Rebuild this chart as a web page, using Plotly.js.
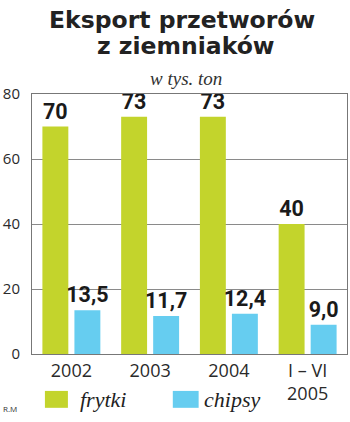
<!DOCTYPE html>
<html>
<head>
<meta charset="utf-8">
<script src="https://cdn.plot.ly/plotly-3.0.1.min.js"></script>
<style>html,body{margin:0;padding:0;background:#fff;}#chart{width:350px;height:422px;}</style>
</head>
<body>
<div id="chart"></div>
<script>
var categories = ["2002", "2003", "2004", "I – VI<br>2005"];
var frytki = [70, 73, 73, 40];
var chipsy = [13.5, 11.7, 12.4, 9.0];
var yTicks = [0, 20, 40, 60, 80];
var seriesNames = ["frytki", "chipsy"];
var titleLines = ["Eksport przetworów", "z ziemniaków"];
var subtitle = "w tys. ton";

var green = "#c3d42c";
var blue = "#66cdf0";

function fmt(v, d) { return v.toFixed(d).replace('.', ','); }

var labelFont = {family: "Roboto, 'Liberation Sans', sans-serif", size: 21.5, color: "#1a1a1a", weight: 700};

var traces = [
  {type: "bar", name: seriesNames[0], x: categories, y: frytki,
   text: frytki.map(function(v){return fmt(v,0);}), textposition: "outside", constraintext: "none",
   textfont: labelFont, marker: {color: green}, cliponaxis: false, hoverinfo: "none"},
  {type: "bar", name: seriesNames[1], x: categories, y: chipsy,
   text: chipsy.map(function(v){return fmt(v,1);}), textposition: "outside", constraintext: "none",
   textfont: labelFont, marker: {color: blue}, cliponaxis: false, hoverinfo: "none"}
];

var titleFont = {family: "'DejaVu Sans', sans-serif", size: 23.5, color: "#222", weight: 700};
var serif = "'Liberation Serif', 'DejaVu Serif', serif";

var layout = {
  width: 350, height: 422,
  margin: {l: 32, r: 3, t: 94, b: 68},
  paper_bgcolor: "#fff", plot_bgcolor: "#fff",
  showlegend: false,
  barmode: "group", bargap: 0.187, bargroupgap: 0.19,
  font: {family: "'Open Sans', sans-serif", color: "#333"},
  xaxis: {type: "category", showline: true, mirror: true, linecolor: "#777", linewidth: 1,
          ticks: "", ticklabelstandoff: 0,
          tickfont: {size: 18, color: "#2a2a2a", family: "'Open Sans', sans-serif"}, fixedrange: true},
  yaxis: {range: [0, 80], tickvals: yTicks, showgrid: true, gridcolor: "#8a8a8a", gridwidth: 1,
          showline: true, mirror: true, linecolor: "#777", linewidth: 1, zeroline: false,
          ticks: "", ticklabelstandoff: 8,
          tickfont: {size: 15, color: "#2a2a2a", family: "'Open Sans', sans-serif"}, fixedrange: true},
  annotations: [
    {xref: "paper", yref: "paper", x: 0.475, y: 1, xanchor: "center", yanchor: "middle", yshift: 74,
     text: titleLines[0], showarrow: false, font: titleFont},
    {xref: "paper", yref: "paper", x: 0.49, y: 1, xanchor: "center", yanchor: "middle", yshift: 48,
     text: titleLines[1], showarrow: false, font: titleFont},
    {xref: "paper", yref: "paper", x: 0.49, y: 1, xanchor: "center", yanchor: "middle", yshift: 16,
     text: "<i>" + subtitle + "</i>", showarrow: false,
     font: {family: serif, size: 19, color: "#333"}},
    {xref: "paper", yref: "paper", x: 0.146, y: 0, xanchor: "left", yanchor: "middle", yshift: -45,
     text: "<i>" + seriesNames[0] + "</i>", showarrow: false,
     font: {family: serif, size: 22, color: "#222"}},
    {xref: "paper", yref: "paper", x: 0.54, y: 0, xanchor: "left", yanchor: "middle", yshift: -45,
     text: "<i>" + seriesNames[1] + "</i>", showarrow: false,
     font: {family: serif, size: 22, color: "#222"}},
    {xref: "paper", yref: "paper", x: -0.1, y: 0, xanchor: "left", yanchor: "middle", yshift: -54,
     text: "R.M", showarrow: false,
     font: {family: "'Open Sans', sans-serif", size: 8, color: "#333"}}
  ],
  shapes: [
    {type: "rect", xref: "paper", yref: "paper", x0: 0.041, x1: 0.114, y0: -0.142, y1: -0.207,
     fillcolor: green, line: {width: 0}},
    {type: "rect", xref: "paper", yref: "paper", x0: 0.447, x1: 0.529, y0: -0.142, y1: -0.207,
     fillcolor: blue, line: {width: 0}}
  ]
};

Plotly.newPlot("chart", traces, layout, {staticPlot: true, displayModeBar: false});
</script>
</body>
</html>
